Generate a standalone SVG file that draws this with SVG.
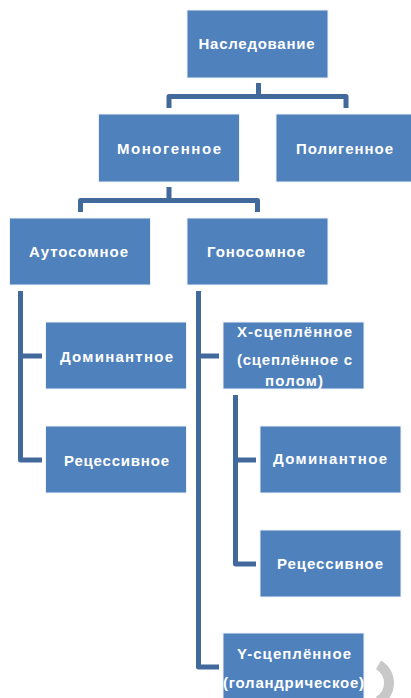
<svg xmlns="http://www.w3.org/2000/svg" width="411" height="698" viewBox="0 0 411 698">
<style>
.box{fill:#4f81bd;stroke:#eef2f8;stroke-width:1}
.t{font-family:"Liberation Sans",Arial,sans-serif;font-weight:bold;font-size:15px;fill:#ffffff;text-anchor:middle}
.c{fill:none;stroke:#41699b;stroke-width:5;stroke-linejoin:round;stroke-linecap:butt}
</style>
<rect width="411" height="698" fill="#ffffff"/>
<g id="connectors">
<path class="c" d="M258.5,83 V96.5 H169 V108 M258.5,96.5 H346 V108"/>
<path class="c" d="M169,187 V200.5 H80.5 V212 M169,200.5 H257.5 V212"/>
<path class="c" d="M20.5,291 V460 H42 M20.5,356 H42"/>
<path class="c" d="M198.5,291 V667 H219 M198.5,356 H219"/>
<path class="c" d="M235.5,395 V564 H256 M235.5,460 H256"/>
</g>
<g id="n-nasled"><rect class="box" x="187" y="10" width="141" height="68"/><text class="t" x="256.5" y="49" textLength="116" lengthAdjust="spacing">Наследование</text></g>
<g id="n-monogen"><rect class="box" x="98.5" y="114" width="141" height="68"/><text class="t" x="169" y="154" textLength="104" lengthAdjust="spacing">Моногенное</text></g>
<g id="n-poligen"><rect class="box" x="276" y="114" width="141" height="68"/><text class="t" x="344.5" y="154" textLength="97" lengthAdjust="spacing">Полигенное</text></g>
<g id="n-autosom"><rect class="box" x="9.5" y="218" width="141" height="67"/><text class="t" x="78.5" y="257" textLength="99" lengthAdjust="spacing">Аутосомное</text></g>
<g id="n-gonosom"><rect class="box" x="187" y="218" width="141" height="67"/><text class="t" x="256" y="257" textLength="98" lengthAdjust="spacing">Гоносомное</text></g>
<g id="n-dom1"><rect class="box" x="45.5" y="322" width="141" height="67"/><text class="t" x="116.5" y="362" textLength="113" lengthAdjust="spacing">Доминантное</text></g>
<g id="n-rec1"><rect class="box" x="45.5" y="426" width="141" height="67"/><text class="t" x="116.5" y="466" textLength="105" lengthAdjust="spacing">Рецессивное</text></g>
<g id="n-xlinked"><rect class="box" x="223" y="322" width="141" height="67"/>
<text class="t" x="294.5" y="337" textLength="115" lengthAdjust="spacing">X-сцеплённое</text>
<text class="t" x="294.5" y="365" textLength="115" lengthAdjust="spacing">(сцеплённое с</text>
<text class="t" x="294" y="386" textLength="58" lengthAdjust="spacing">полом)</text></g>
<g id="n-dom2"><rect class="box" x="260" y="426" width="141" height="67"/><text class="t" x="330" y="464" textLength="114" lengthAdjust="spacing">Доминантное</text></g>
<g id="n-rec2"><rect class="box" x="260" y="530" width="141" height="67"/><text class="t" x="330" y="569" textLength="106" lengthAdjust="spacing">Рецессивное</text></g>
<g id="n-ylinked"><rect class="box" x="223" y="633" width="141" height="80"/>
<text class="t" x="294" y="659" textLength="114" lengthAdjust="spacing">Y-сцеплённое</text>
<text class="t" x="293.5" y="688" textLength="141" lengthAdjust="spacing">(голандрическое)</text></g>
<path d="M378.5,664.8 A21,21 0 0 1 378.5,701.2" fill="none" stroke="#c8c8c8" stroke-width="10"/>
</svg>
